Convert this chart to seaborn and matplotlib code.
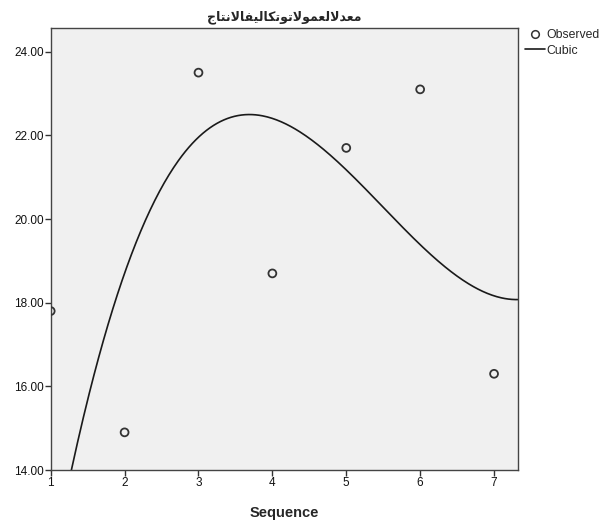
import numpy as np
import pandas as pd
import matplotlib
matplotlib.use("Agg")
import matplotlib.pyplot as plt
import seaborn as sns
from matplotlib.lines import Line2D

# ---- data ----
sequence = [1, 2, 3, 4, 5, 6, 7]
observed = [17.8, 14.9, 23.5, 18.7, 21.7, 23.1, 16.3]
# cubic fit curve
curve_x = [1.28, 1.41, 2.0, 3.0, 3.7, 4.0, 5.0, 6.0, 7.0, 7.32]
curve_y = [14.0, 14.96, 18.8, 21.95, 22.45, 22.4, 21.17, 19.42, 18.18, 18.05]
x_ticks = [1, 2, 3, 4, 5, 6, 7]
y_ticks = [14, 16, 18, 20, 22, 24]
title_text = "معدلالعمولاتوتكاليفالانتاج"
x_label = "Sequence"
legend_labels = ["Observed", "Cubic"]

# ---- minimal Arabic shaping (matplotlib has no bidi/shaping) ----
FORMS = {
    "\u0627": ("\uFE8D", "\uFE8E", None, None),
    "\u062A": ("\uFE95", "\uFE96", "\uFE97", "\uFE98"),
    "\u062C": ("\uFE9D", "\uFE9E", "\uFE9F", "\uFEA0"),
    "\u062F": ("\uFEA9", "\uFEAA", None, None),
    "\u0639": ("\uFEC9", "\uFECA", "\uFECB", "\uFECC"),
    "\u0641": ("\uFED1", "\uFED2", "\uFED3", "\uFED4"),
    "\u0643": ("\uFED9", "\uFEDA", "\uFEDB", "\uFEDC"),
    "\u0644": ("\uFEDD", "\uFEDE", "\uFEDF", "\uFEE0"),
    "\u0645": ("\uFEE1", "\uFEE2", "\uFEE3", "\uFEE4"),
    "\u0646": ("\uFEE5", "\uFEE6", "\uFEE7", "\uFEE8"),
    "\u0648": ("\uFEED", "\uFEEE", None, None),
    "\u064A": ("\uFEF1", "\uFEF2", "\uFEF3", "\uFEF4"),
    "LA": ("\uFEFB", "\uFEFC", None, None),
}


def shape_arabic(text):
    toks = []
    i = 0
    while i < len(text):
        if text[i] == "\u0644" and i + 1 < len(text) and text[i + 1] == "\u0627":
            toks.append("LA")
            i += 2
        else:
            toks.append(text[i])
            i += 1
    out = []
    for k, t in enumerate(toks):
        f = FORMS.get(t)
        if f is None:
            out.append(t)
            continue
        prev = FORMS.get(toks[k - 1]) if k > 0 else None
        nxt = FORMS.get(toks[k + 1]) if k + 1 < len(toks) else None
        join_prev = prev is not None and prev[2] is not None
        join_next = nxt is not None and f[2] is not None
        if join_prev and join_next:
            out.append(f[3])
        elif join_prev:
            out.append(f[1])
        elif join_next:
            out.append(f[2])
        else:
            out.append(f[0])
    return "".join(reversed(out))


sns.set_style("white")
plt.rcParams["font.family"] = ["Liberation Sans", "DejaVu Sans"]

df = pd.DataFrame({"Sequence": sequence, "Observed": observed})

xlim = (1.0, 7.32)
ylim = (14.0, 24.56)

# smooth cubic through the read curve values
coef = np.polyfit(curve_x, curve_y, 3)
xs = np.linspace(xlim[0], xlim[1], 400)
fit_df = pd.DataFrame({"Sequence": xs, "Cubic": np.polyval(coef, xs)})

fig = plt.figure(figsize=(6.05, 5.22), dpi=100)
ax = fig.add_axes([0.0838, 0.0996, 0.8557 - 0.0838, 0.9458 - 0.0996])
ax.set_facecolor("#f0f0f0")

sns.lineplot(data=fit_df, x="Sequence", y="Cubic", ax=ax, color="#1a1a1a",
             linewidth=1.2, legend=False)
sns.scatterplot(data=df, x="Sequence", y="Observed", ax=ax, marker="o",
                s=32, facecolor="none", edgecolor="#333333", linewidth=1.3,
                legend=False, zorder=3)

ax.set_xlim(*xlim)
ax.set_ylim(*ylim)
ax.set_xticks(x_ticks)
ax.set_xticklabels([str(v) for v in x_ticks])
ax.set_yticks(y_ticks)
ax.set_yticklabels([f"{v:.2f}" for v in y_ticks])
ax.tick_params(axis="both", direction="out", length=4, width=1, color="#333333",
               labelsize=8.5, labelcolor="#111111", pad=1)
ax.tick_params(axis="both", bottom=True, left=True)
for sp in ax.spines.values():
    sp.set_color("#444444")
    sp.set_linewidth(1.0)

ax.set_xlabel(x_label, fontsize=10.5, fontweight="bold", labelpad=12)
ax.set_ylabel("")
ax.set_title(shape_arabic(title_text), fontsize=9, fontweight="bold",
             family=["DejaVu Sans"], pad=6)

handles = [
    Line2D([], [], marker="o", linestyle="none", markerfacecolor="none",
           markeredgecolor="#333333", markersize=5.5, markeredgewidth=1.1),
    Line2D([], [], color="#1a1a1a", linewidth=1.2),
]
fig.legend(handles, legend_labels, loc="upper left",
           bbox_to_anchor=(525 / 605, 1 - 29 / 522),
           frameon=False, fontsize=8.8, handlelength=1.6, handletextpad=0.15,
           labelspacing=0.3, borderpad=0, borderaxespad=0)

fig.savefig("out.png", dpi=100)
